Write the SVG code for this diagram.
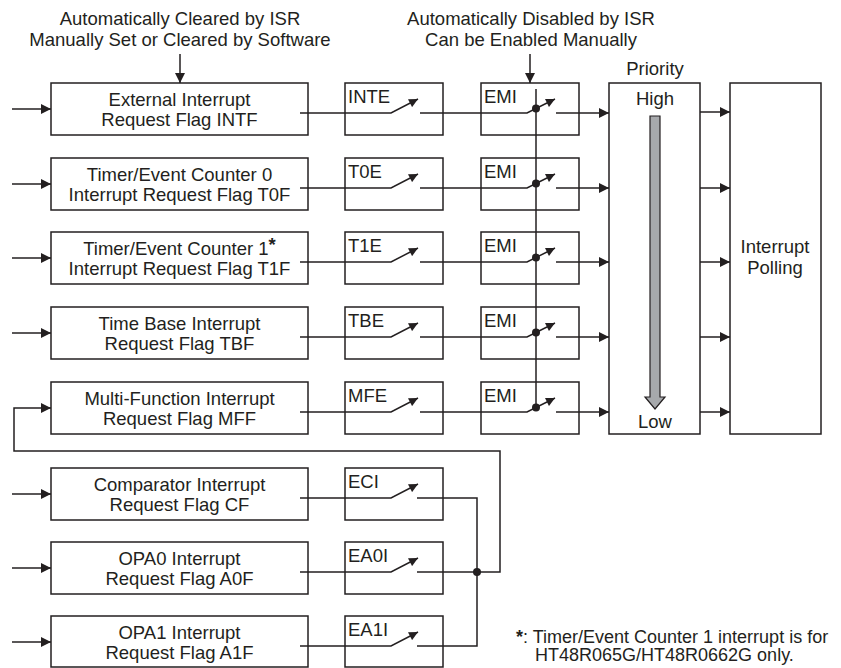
<svg xmlns="http://www.w3.org/2000/svg" width="841" height="668" viewBox="0 0 841 668">
<defs>
<style>
.bx{fill:#fff;stroke:#231f20;stroke-width:1.5}
.ln{fill:none;stroke:#231f20;stroke-width:1.5}
.t{font-family:"Liberation Sans",Arial,sans-serif;font-size:18.5px;fill:#231f20}
.c{text-anchor:middle}
.dot{fill:#231f20}
</style>
<marker id="ah" viewBox="0 0 10 10" refX="10" refY="5" markerWidth="10" markerHeight="10" markerUnits="userSpaceOnUse" orient="auto"><path d="M0,0 L10,5 L0,10 z" fill="#231f20"/></marker>
<marker id="sh" viewBox="0 0 10 10" refX="10" refY="5" markerWidth="10" markerHeight="9" markerUnits="userSpaceOnUse" orient="auto"><path d="M0,0 L10,5 L0,10 z" fill="#231f20"/></marker>
</defs>

<g id="header-left">
<text class="t c" x="180" y="25">Automatically Cleared by ISR</text>
<text class="t c" x="180" y="46">Manually Set or Cleared by Software</text>
</g>
<g id="header-right">
<text class="t c" x="531" y="25">Automatically Disabled by ISR</text>
<text class="t c" x="531" y="46">Can be Enabled Manually</text>
</g>

<g id="flag-intf"><rect class="bx" x="51" y="83" width="257" height="52"/><text class="t c" x="179.5" y="106">External Interrupt</text><text class="t c" x="179.5" y="126">Request Flag INTF</text></g>
<g id="flag-t0f"><rect class="bx" x="51" y="158" width="257" height="52"/><text class="t c" x="179.5" y="181">Timer/Event Counter 0</text><text class="t c" x="179.5" y="201">Interrupt Request Flag T0F</text></g>
<g id="flag-t1f"><rect class="bx" x="51" y="232" width="257" height="52"/><text class="t c" x="179.5" y="255">Timer/Event Counter 1<tspan font-weight="bold" dy="-4">*</tspan></text><text class="t c" x="179.5" y="275">Interrupt Request Flag T1F</text></g>
<g id="flag-tbf"><rect class="bx" x="51" y="307" width="257" height="52"/><text class="t c" x="179.5" y="330">Time Base Interrupt</text><text class="t c" x="179.5" y="350">Request Flag TBF</text></g>
<g id="flag-mff"><rect class="bx" x="51" y="382" width="257" height="52"/><text class="t c" x="179.5" y="405">Multi-Function Interrupt</text><text class="t c" x="179.5" y="425">Request Flag MFF</text></g>
<g id="flag-cf"><rect class="bx" x="51" y="468" width="257" height="52"/><text class="t c" x="179.5" y="491">Comparator Interrupt</text><text class="t c" x="179.5" y="511">Request Flag CF</text></g>
<g id="flag-a0f"><rect class="bx" x="51" y="542" width="257" height="52"/><text class="t c" x="179.5" y="565">OPA0 Interrupt</text><text class="t c" x="179.5" y="585">Request Flag A0F</text></g>
<g id="flag-a1f"><rect class="bx" x="51" y="616" width="257" height="51"/><text class="t c" x="179.5" y="639">OPA1 Interrupt</text><text class="t c" x="179.5" y="659">Request Flag A1F</text></g>

<g id="en-inte"><rect class="bx" x="345" y="83" width="98" height="52"/><text class="t" x="348" y="103">INTE</text></g>
<g id="en-t0e"><rect class="bx" x="345" y="158" width="98" height="52"/><text class="t" x="348" y="178">T0E</text></g>
<g id="en-t1e"><rect class="bx" x="345" y="232" width="98" height="52"/><text class="t" x="348" y="252">T1E</text></g>
<g id="en-tbe"><rect class="bx" x="345" y="307" width="98" height="52"/><text class="t" x="348" y="327">TBE</text></g>
<g id="en-mfe"><rect class="bx" x="345" y="382" width="98" height="52"/><text class="t" x="348" y="402">MFE</text></g>
<g id="en-eci"><rect class="bx" x="345" y="468" width="98" height="52"/><text class="t" x="348" y="488">ECI</text></g>
<g id="en-ea0i"><rect class="bx" x="345" y="542" width="98" height="52"/><text class="t" x="348" y="562">EA0I</text></g>
<g id="en-ea1i"><rect class="bx" x="345" y="616" width="98" height="51"/><text class="t" x="348" y="636">EA1I</text></g>

<g id="emi-1"><rect class="bx" x="481" y="83" width="98" height="52"/><text class="t" x="484" y="103">EMI</text></g>
<g id="emi-2"><rect class="bx" x="481" y="158" width="98" height="52"/><text class="t" x="484" y="178">EMI</text></g>
<g id="emi-3"><rect class="bx" x="481" y="232" width="98" height="52"/><text class="t" x="484" y="252">EMI</text></g>
<g id="emi-4"><rect class="bx" x="481" y="307" width="98" height="52"/><text class="t" x="484" y="327">EMI</text></g>
<g id="emi-5"><rect class="bx" x="481" y="382" width="98" height="52"/><text class="t" x="484" y="402">EMI</text></g>

<g id="priority">
<rect class="bx" x="609" y="83" width="91" height="351"/>
<text class="t c" x="655" y="75">Priority</text>
<text class="t c" x="655" y="105">High</text>
<text class="t c" x="655" y="428">Low</text>
<path d="M650,116 H660 V397 H665 L655,409 L645,397 H650 Z" fill="#a7a9ac" stroke="#231f20" stroke-width="1.2"/>
</g>
<g id="polling">
<rect class="bx" x="730" y="83" width="91" height="351"/>
<text class="t c" x="775" y="253">Interrupt</text>
<text class="t c" x="775" y="274">Polling</text>
</g>

<g id="connectors">
<line class="ln" x1="180" y1="54" x2="180" y2="83" marker-end="url(#ah)"/>
<line class="ln" x1="530" y1="54" x2="530" y2="83" marker-end="url(#ah)"/>
<line class="ln" x1="12" y1="109" x2="51" y2="109" marker-end="url(#ah)"/>
<line class="ln" x1="12" y1="184" x2="51" y2="184" marker-end="url(#ah)"/>
<line class="ln" x1="12" y1="258" x2="51" y2="258" marker-end="url(#ah)"/>
<line class="ln" x1="12" y1="333" x2="51" y2="333" marker-end="url(#ah)"/>
<line class="ln" x1="12" y1="494" x2="51" y2="494" marker-end="url(#ah)"/>
<line class="ln" x1="12" y1="568" x2="51" y2="568" marker-end="url(#ah)"/>
<line class="ln" x1="12" y1="642" x2="51" y2="642" marker-end="url(#ah)"/>
<path class="ln" d="M477,572 H500 V451 H14 V408 H51" marker-end="url(#ah)"/>
<path class="ln" d="M300,113 H391 L418,99" marker-end="url(#sh)"/>
<path class="ln" d="M300,188 H391 L418,174" marker-end="url(#sh)"/>
<path class="ln" d="M300,262 H391 L418,248" marker-end="url(#sh)"/>
<path class="ln" d="M300,337 H391 L418,323" marker-end="url(#sh)"/>
<path class="ln" d="M300,412 H391 L418,398" marker-end="url(#sh)"/>
<path class="ln" d="M300,498 H391 L418,484" marker-end="url(#sh)"/>
<path class="ln" d="M300,572 H391 L418,558" marker-end="url(#sh)"/>
<path class="ln" d="M300,646 H391 L418,632" marker-end="url(#sh)"/>
<path class="ln" d="M420,113 H527 L555,99" marker-end="url(#sh)"/>
<path class="ln" d="M420,188 H527 L555,174" marker-end="url(#sh)"/>
<path class="ln" d="M420,262 H527 L555,248" marker-end="url(#sh)"/>
<path class="ln" d="M420,337 H527 L555,323" marker-end="url(#sh)"/>
<path class="ln" d="M420,412 H527 L555,398" marker-end="url(#sh)"/>
<line class="ln" x1="536" y1="89" x2="536" y2="407.5"/>
<circle class="dot" cx="536" cy="108.5" r="4"/>
<circle class="dot" cx="536" cy="183.5" r="4"/>
<circle class="dot" cx="536" cy="257.5" r="4"/>
<circle class="dot" cx="536" cy="332.5" r="4"/>
<circle class="dot" cx="536" cy="407.5" r="4"/>
<line class="ln" x1="556" y1="113" x2="609" y2="113" marker-end="url(#ah)"/>
<line class="ln" x1="556" y1="188" x2="609" y2="188" marker-end="url(#ah)"/>
<line class="ln" x1="556" y1="262" x2="609" y2="262" marker-end="url(#ah)"/>
<line class="ln" x1="556" y1="337" x2="609" y2="337" marker-end="url(#ah)"/>
<line class="ln" x1="556" y1="412" x2="609" y2="412" marker-end="url(#ah)"/>
<line class="ln" x1="700" y1="112" x2="730" y2="112" marker-end="url(#ah)"/>
<line class="ln" x1="700" y1="188" x2="730" y2="188" marker-end="url(#ah)"/>
<line class="ln" x1="700" y1="262" x2="730" y2="262" marker-end="url(#ah)"/>
<line class="ln" x1="700" y1="337" x2="730" y2="337" marker-end="url(#ah)"/>
<line class="ln" x1="700" y1="412" x2="730" y2="412" marker-end="url(#ah)"/>
<path class="ln" d="M417,498 H477 V646 H417"/>
<line class="ln" x1="417" y1="572" x2="477" y2="572"/>
<circle class="dot" cx="477" cy="572" r="4"/>
</g>

<g id="footnote">
<text class="t" x="516" y="643" style="font-size:18px"><tspan font-weight="bold">*</tspan>: Timer/Event Counter 1 interrupt is for</text>
<text class="t" x="535" y="661" style="font-size:18px">HT48R065G/HT48R0662G only.</text>
</g>
</svg>
